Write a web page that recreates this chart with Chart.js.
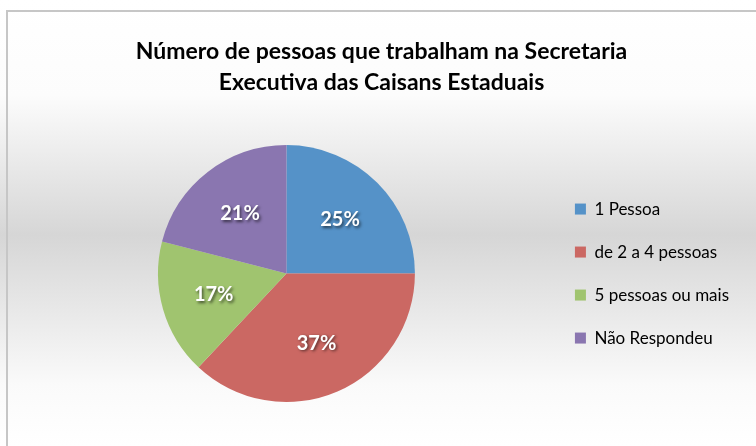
<!DOCTYPE html>
<html>
<head>
<meta charset="utf-8">
<script src="https://cdn.jsdelivr.net/npm/chart.js@4/dist/chart.umd.min.js"></script>
<style>
    html, body { margin: 0; padding: 0; background: #fff; }
    #wrap { position: relative; width: 756px; height: 446px; overflow: hidden; }
    #fundo {
        position: absolute; left: 0; top: 0; width: 756px; height: 446px;
        background: linear-gradient(to bottom, #fff 0px, #fcfcfc 95px, #d6d6d6 235px, #fafafa 385px, #fff 446px);
    }
    #moldura {
        position: absolute; left: 6px; top: 10px; width: 800px; height: 500px;
        border-left: 2px solid #c6c6c6; border-top: 2px solid #c6c6c6;
    }
    #grafico { position: absolute; left: 0; top: 0; }
</style>
</head>
<body>
<div id="wrap">
    <div id="fundo"></div>
    <div id="moldura"></div>
    <canvas id="grafico" width="756" height="446"></canvas>
</div>
<script>
// Dados do gráfico
const categorias = ['1 Pessoa', 'de 2 a 4 pessoas', '5 pessoas ou mais', 'Não Respondeu'];
const percentuais = [25, 37, 17, 21];
const cores = ['#5592c8', '#cb6863', '#a0c46f', '#8a76b0'];
const titulo = ['Número de pessoas que trabalham na Secretaria', 'Executiva das Caisans Estaduais'];

// Rótulos brancos com sombra dentro das fatias
const rotulosFatias = {
    id: 'rotulosFatias',
    afterDatasetsDraw(chart) {
        const ctx = chart.ctx;
        const meta = chart.getDatasetMeta(0);
        ctx.save();
        ctx.font = "bold 20px Lato, sans-serif";
        ctx.fillStyle = '#fff';
        ctx.textAlign = 'center';
        ctx.textBaseline = 'middle';
        ctx.shadowColor = 'rgba(0, 0, 0, 0.6)';
        ctx.shadowOffsetX = 1.5;
        ctx.shadowOffsetY = 1.5;
        ctx.shadowBlur = 3;
        meta.data.forEach(function(arc, i) {
            const p = arc.getProps(['x', 'y', 'startAngle', 'endAngle', 'outerRadius'], true);
            const meio = (p.startAngle + p.endAngle) / 2;
            const r = p.outerRadius * 0.59;
            ctx.fillText(percentuais[i] + '%', p.x + Math.cos(meio) * r, p.y + Math.sin(meio) * r);
        });
        ctx.restore();
    }
};

new Chart(document.getElementById('grafico'), {
    type: 'pie',
    data: {
        labels: categorias,
        datasets: [{
            data: percentuais,
            backgroundColor: cores,
            borderWidth: 0
        }]
    },
    options: {
        responsive: false,
        animation: false,
        layout: {
            padding: { left: 24, right: 17, top: 0, bottom: 44 }
        },
        plugins: {
            title: {
                display: true,
                text: titulo,
                color: '#000',
                font: { family: 'Lato', size: 23, weight: 'bold', lineHeight: 1.35 },
                padding: { top: 36, bottom: 47 }
            },
            legend: {
                position: 'right',
                fullSize: false,
                labels: {
                    color: '#000',
                    font: { family: 'Lato', size: 17 },
                    boxWidth: 11,
                    boxHeight: 11,
                    padding: 26
                }
            },
            tooltip: { enabled: false }
        }
    },
    plugins: [rotulosFatias]
});
</script>
</body>
</html>
